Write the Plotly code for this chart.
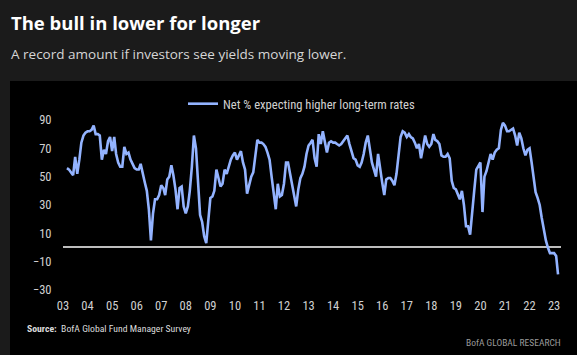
import pandas as pd
import plotly.graph_objects as go

# ---- data (monthly, starting Mar 2003) ----
start_month = "2003-03-01"
net_pct_higher_rates = [
    56, 55, 53, 51, 64, 52, 62, 74, 79, 81,
    82, 82, 83, 86, 80, 80, 79, 62, 69, 66,
    75, 78, 68, 78, 66, 60, 57, 57, 71, 66,
    67, 62, 59, 56, 55, 55, 59, 51, 46, 40,
    27, 5, 24, 34, 34, 37, 44, 42, 37, 48,
    50, 58, 51, 41, 27, 42, 43, 29, 24, 29,
    40, 57, 79, 70, 45, 23, 18, 8, 3, 19,
    35, 36, 40, 55, 50, 43, 45, 55, 52, 58,
    62, 65, 67, 62, 65, 68, 60, 55, 38, 45,
    50, 53, 65, 76, 74, 74, 73, 71, 67, 62,
    50, 36, 27, 45, 36, 37, 45, 60, 60, 52,
    44, 34, 29, 41, 49, 52, 57, 66, 72, 74,
    76, 63, 57, 80, 73, 82, 74, 67, 74, 75,
    74, 74, 73, 72, 73, 75, 77, 79, 73, 67,
    63, 62, 58, 57, 60, 66, 74, 79, 71, 60,
    55, 50, 66, 55, 46, 37, 48, 49, 49, 47,
    44, 52, 66, 78, 82, 81, 78, 80, 78, 77,
    74, 70, 73, 63, 71, 79, 73, 71, 73, 80,
    76, 75, 73, 65, 64, 64, 66, 63, 47, 42,
    41, 37, 34, 40, 30, 15, 15, 9, 28, 40,
    55, 58, 60, 25, 50, 54, 60, 66, 62, 67,
    69, 70, 83, 88, 86, 82, 82, 83, 84, 79,
    72, 81, 77, 70, 65, 69, 70, 60, 48, 39,
    35, 30, 21, 12, 5, 0, -4, -4, -4, -6,
    -19,
]
y_ticks = [90, 70, 50, 30, 10, -10, -30]
series_name = "Net % expecting higher long-term rates"
title_text = "The bull in lower for longer"
subtitle_text = "A record amount if investors see yields moving lower."
source_text = "<b>Source:</b>  BofA Global Fund Manager Survey"
brand_text = "BofA GLOBAL RESEARCH"

dates = pd.date_range(start_month, periods=len(net_pct_higher_rates), freq="MS")

# ---- layout geometry (pixels) ----
W, H = 577, 355
L, R, T, B = 63, 16, 117, 65
PW, PH = W - L - R, H - T - B


def px_x(x):
    return (x - L) / PW


def px_y(y):
    return (H - B - y) / PH


COND = "Roboto Condensed, DejaVu Sans Condensed, Liberation Sans Narrow, Liberation Sans, Arial, sans-serif"

fig = go.Figure()
fig.add_trace(go.Scatter(
    x=dates, y=net_pct_higher_rates, mode="lines", name=series_name,
    line=dict(color="#93b3ff", width=2.6), showlegend=True,
))

fig.update_layout(
    width=W, height=H,
    margin=dict(l=L, r=R, t=T, b=B),
    paper_bgcolor="#1b1b1b",
    plot_bgcolor="#000000",
    showlegend=True,
    legend=dict(
        orientation="h", x=px_x(183), y=px_y(104), xanchor="left", yanchor="middle",
        bgcolor="rgba(0,0,0,0)", font=dict(family=COND, size=12.6, color="#d0d0d0"),
        itemwidth=30,
    ),
    xaxis=dict(
        type="date", range=["2003-01-01", "2023-04-14"],
        tick0="2003-01-01", dtick="M12", tickformat="%y",
        showgrid=False, zeroline=False, showline=False,
        ticks="outside", ticklen=4, tickcolor="rgba(0,0,0,0)",
        tickfont=dict(family=COND, size=12.5, color="#d0d0d0"),
    ),
    yaxis=dict(
        range=[-30, 92.1], tickvals=y_ticks,
        showgrid=False, zeroline=True, zerolinecolor="#bdbdbd", zerolinewidth=1.6,
        showline=False, ticks="outside", ticklen=8, tickcolor="rgba(0,0,0,0)",
        tickfont=dict(family=COND, size=12.5, color="#d0d0d0"),
    ),
    shapes=[dict(
        type="rect", xref="paper", yref="paper", layer="below",
        x0=px_x(10), x1=px_x(W + 5), y0=px_y(H + 5), y1=px_y(81),
        fillcolor="#000000", line=dict(width=0),
    )],
    annotations=[
        dict(text=title_text, xref="paper", yref="paper", x=px_x(9), y=px_y(23),
             xanchor="left", yanchor="middle", showarrow=False,
             font=dict(family="Open Sans, sans-serif", size=18.5, color="#ffffff", weight=700)),
        dict(text=subtitle_text, xref="paper", yref="paper", x=px_x(9), y=px_y(53.5),
             xanchor="left", yanchor="middle", showarrow=False,
             font=dict(family="Open Sans, sans-serif", size=13.5, color="#d6d6d6")),
        dict(text=source_text, xref="paper", yref="paper", x=px_x(25), y=px_y(328),
             xanchor="left", yanchor="middle", showarrow=False,
             font=dict(family=COND, size=9.7, color="#dcdcdc")),
        dict(text=brand_text, xref="paper", yref="paper", x=px_x(563), y=px_y(342),
             xanchor="right", yanchor="middle", showarrow=False,
             font=dict(family=COND, size=9.5, color="#9a9a9a")),
    ],
)

fig.write_html(
    "out.html",
    config={"displayModeBar": False},
    post_script=(
        "document.documentElement.style.margin='0';"
        "document.body.style.margin='0';"
        "document.body.style.overflow='hidden';"
        "document.body.style.background='#1b1b1b';"
    ),
)
